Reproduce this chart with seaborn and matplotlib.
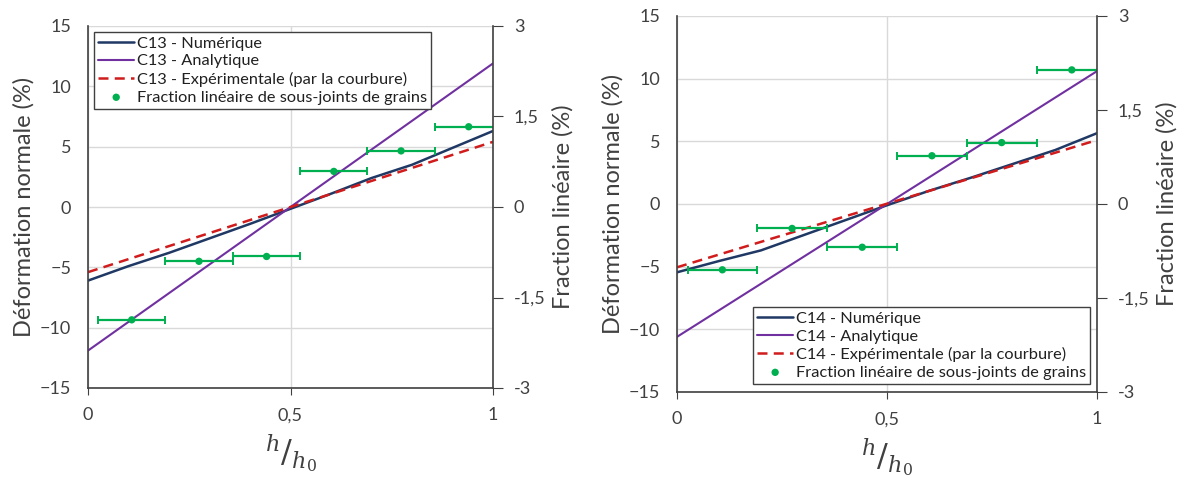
import numpy as np
import pandas as pd
import matplotlib.pyplot as plt
import seaborn as sns

# Data
h = [0, 0.1, 0.2, 0.3, 0.4, 0.5, 0.6, 0.7, 0.8, 0.9, 1.0]
c13_num = [-6.1, -4.9, -3.8, -2.6, -1.4, -0.15, 1.1, 2.4, 3.5, 4.9, 6.3]
c14_num = [-5.45, -4.55, -3.7, -2.5, -1.3, -0.1, 1.05, 2.1, 3.2, 4.3, 5.65]

h_ends = [0, 1]
c13_ana = [-11.9, 11.9]
c13_exp = [-5.4, 5.4]
c14_ana = [-10.6, 10.6]
c14_exp = [-5.05, 5.1]

frac_x = [0.108, 0.274, 0.441, 0.607, 0.773, 0.94]
frac_xerr = [0.083, 0.083, 0.083, 0.083, 0.083, 0.083]
c13_frac = [-1.87, -0.90, -0.82, 0.59, 0.93, 1.33]
c14_frac = [-1.05, -0.39, -0.69, 0.77, 0.98, 2.14]

NAVY = '#1f3864'
PURPLE = '#7030a0'
RED = '#d01c1c'
GREEN = '#00b050'
TXT = '#404040'

sns.set_style('white')
plt.rcParams['font.family'] = ['Lato', 'DejaVu Sans']
plt.rcParams['mathtext.fontset'] = 'dejavuserif'

fig = plt.figure(figsize=(11.86, 4.84), dpi=100)
ax_l = fig.add_axes([88 / 1186, 1 - 388 / 484, 405 / 1186, 362 / 484])
ax_r = fig.add_axes([677 / 1186, 1 - 392 / 484, 420 / 1186, 376 / 484])


def draw_panel(ax, name, num, ana, exp, frac, legend_loc, legend_anchor):
    num_df = pd.DataFrame({'h': h, 'v': num})
    ana_df = pd.DataFrame({'h': h_ends, 'v': ana})
    exp_df = pd.DataFrame({'h': h_ends, 'v': exp})
    sns.lineplot(data=num_df, x='h', y='v', ax=ax, color=NAVY, lw=1.8,
                 label=f'{name} - Numérique')
    sns.lineplot(data=ana_df, x='h', y='v', ax=ax, color=PURPLE, lw=1.5,
                 label=f'{name} - Analytique')
    sns.lineplot(data=exp_df, x='h', y='v', ax=ax, color=RED, lw=1.8,
                 linestyle=(0, (4, 2.5)), label=f'{name} - Expérimentale (par la courbure)')
    ax.set_xlim(0, 1)
    ax.set_ylim(-15, 15)
    ax.set_xticks([0, 0.5, 1])
    ax.set_xticklabels(['0', '0,5', '1'])
    ax.set_yticks([-15, -10, -5, 0, 5, 10, 15])
    ax.grid(True, color='#d9d9d9', lw=1)
    ax.tick_params(axis='y', length=0, labelsize=13, labelcolor=TXT, pad=12)
    ax.tick_params(axis='x', length=5, color='#404040', labelsize=13,
                   labelcolor=TXT, pad=9, direction='out', bottom=True)
    for s in ['left', 'bottom']:
        ax.spines[s].set_color('#404040')
        ax.spines[s].set_linewidth(1.2)
    ax.spines['top'].set_visible(False)
    ax.spines['right'].set_visible(False)
    ax.set_ylabel('Déformation normale (%)', fontsize=17, color=TXT, labelpad=4)
    ax.set_xlabel(r'$^{h}/_{h_0}$', fontsize=23, color=TXT, labelpad=6)

    ax2 = ax.twinx()
    ax2.errorbar(frac_x, frac, xerr=frac_xerr, fmt='none', ecolor=GREEN,
                 elinewidth=1.6, capsize=3, capthick=1.4)
    sns.scatterplot(x=frac_x, y=frac, ax=ax2, color=GREEN, s=28,
                    edgecolor='none', zorder=5,
                    label='Fraction linéaire de sous-joints de grains')
    ax2.set_ylim(-3, 3)
    ax2.set_yticks([-3, -1.5, 0, 1.5, 3])
    ax2.set_yticklabels(['-3', '-1,5', '0', '1,5', '3'])
    ax2.tick_params(axis='y', length=7, color='#404040', labelsize=13,
                    labelcolor=TXT, pad=8)
    ax2.spines['right'].set_color('#404040')
    ax2.spines['right'].set_linewidth(1.2)
    for s in ['left', 'top', 'bottom']:
        ax2.spines[s].set_visible(False)
    ax2.set_ylabel('Fraction linéaire (%)', fontsize=17, color=TXT, labelpad=5)

    h1, l1 = ax.get_legend_handles_labels()
    h2, l2 = ax2.get_legend_handles_labels()
    ax.get_legend().remove()
    leg = ax2.legend(h1 + h2, l1 + l2, loc=legend_loc, bbox_to_anchor=legend_anchor,
                     fontsize=11.8, frameon=True, fancybox=False, framealpha=1,
                     edgecolor='#404040', handlelength=2.2, handletextpad=0.15,
                     labelspacing=0.2, borderpad=0.25, borderaxespad=0)
    leg.get_frame().set_linewidth(1.0)
    for t in leg.get_texts():
        t.set_color('#202020')


draw_panel(ax_l, 'C13', c13_num, c13_ana, c13_exp, c13_frac,
           'upper left', (0.015, 0.983))
draw_panel(ax_r, 'C14', c14_num, c14_ana, c14_exp, c14_frac,
           'lower right', (0.983, 0.022))

fig.savefig('out.png', dpi=100)
